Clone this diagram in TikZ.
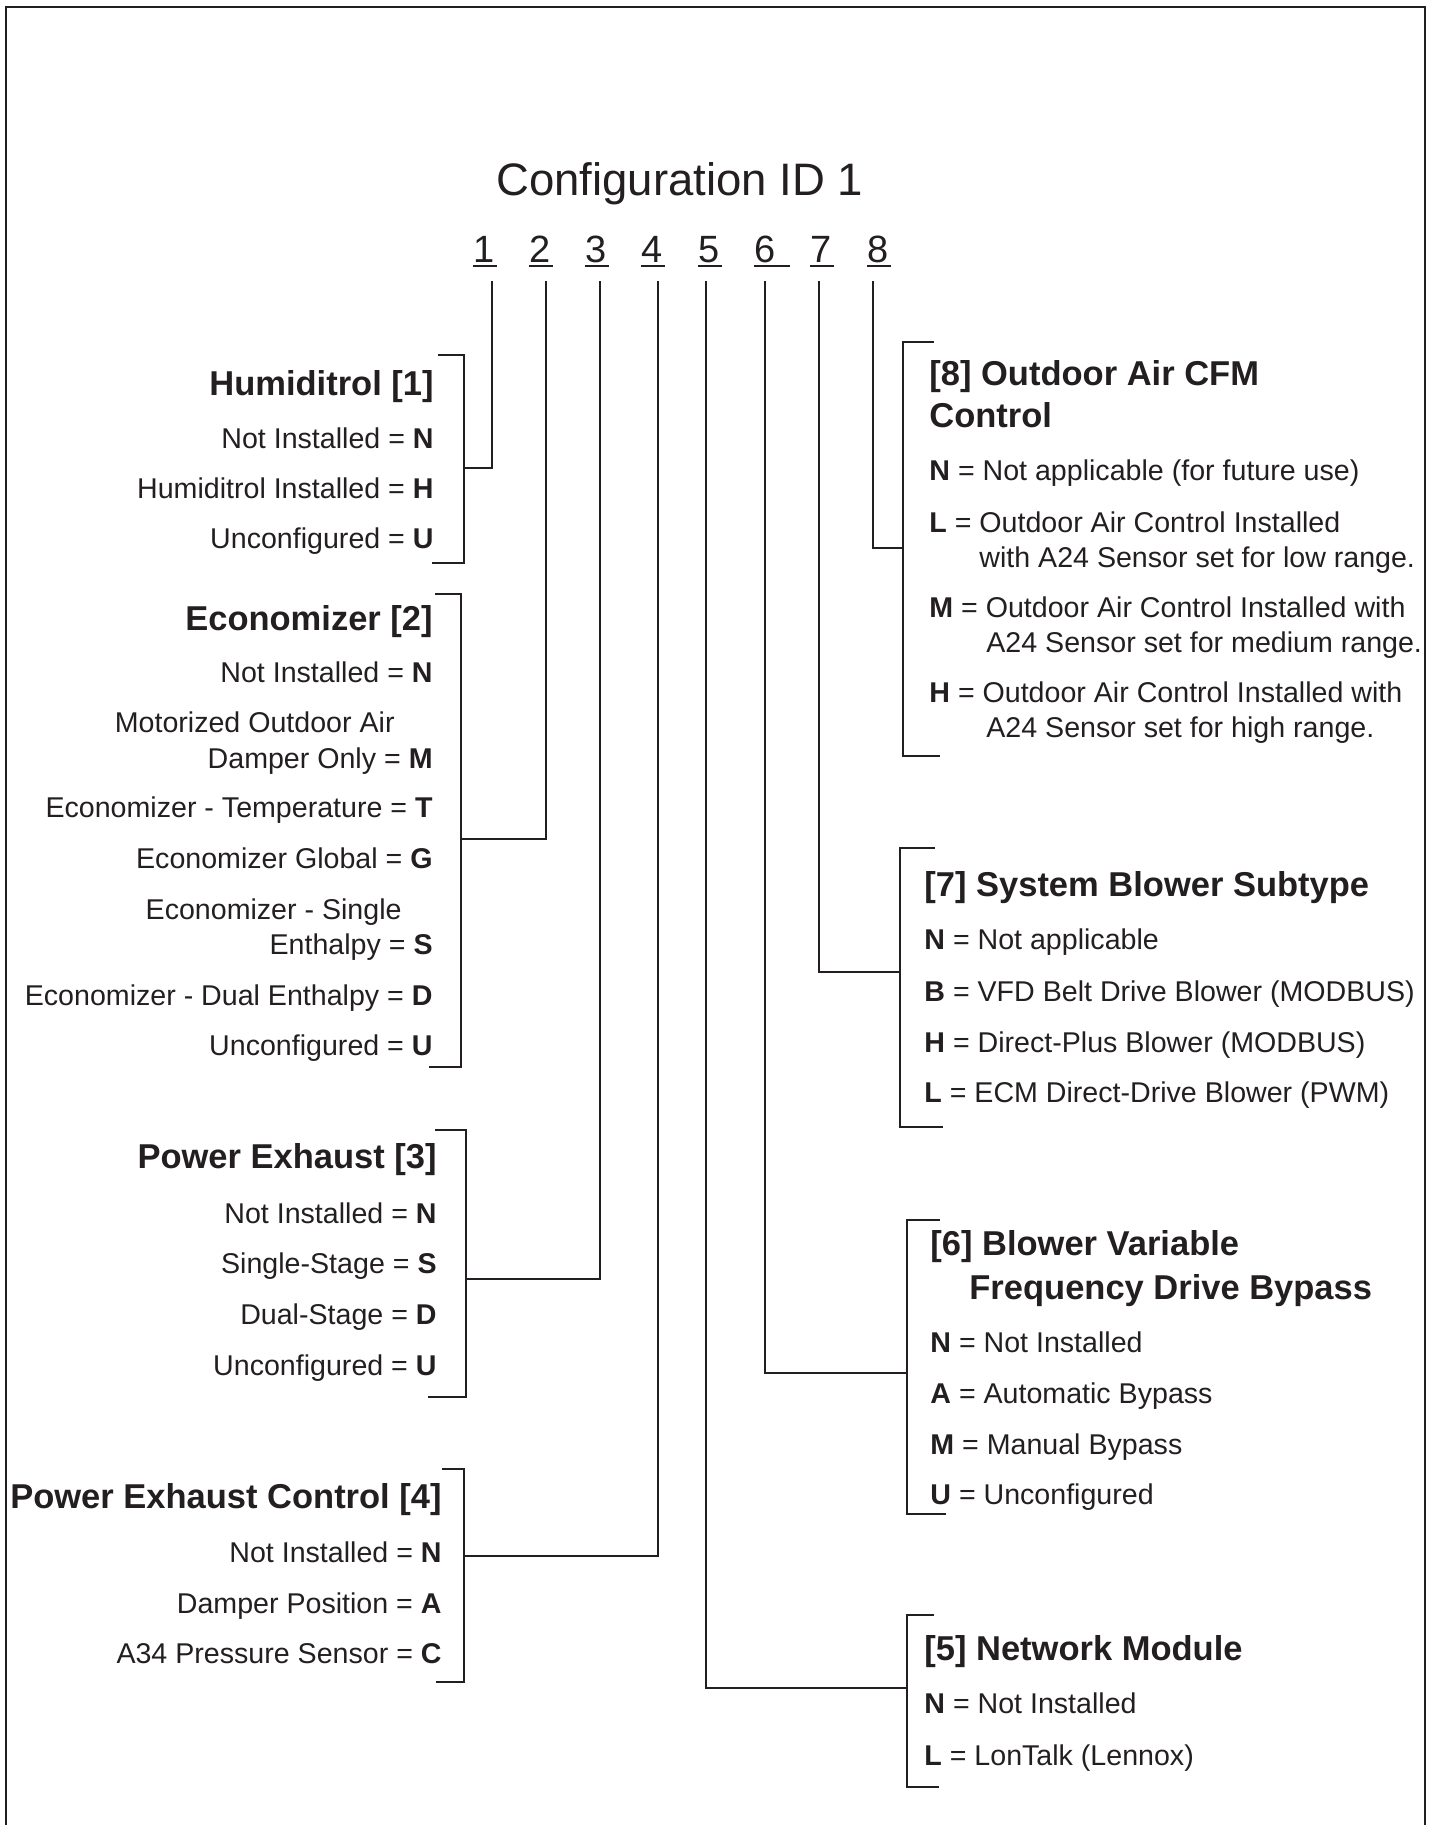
\documentclass[tikz,border=0pt]{standalone}
\usepackage{fontspec}
\setmainfont{Liberation Sans}
\usepackage{xcolor}
\usepackage{tikz}
\definecolor{cfgink}{HTML}{231F20}
\tikzset{
  ltext/.style={anchor=base east,inner sep=0pt,text=cfgink,font=\fontsize{14.3}{17}\selectfont},
  rtext/.style={anchor=base west,inner sep=0pt,text=cfgink,font=\fontsize{14.3}{17}\selectfont},
  lhead/.style={ltext,font=\fontsize{17.25}{20}\selectfont\bfseries},
  rhead/.style={rtext,font=\fontsize{17.25}{20}\selectfont\bfseries},
  digit/.style={anchor=base west,inner sep=0pt,text=cfgink,font=\fontsize{19}{22}\selectfont},
  cfgtitle/.style={anchor=base west,inner sep=0pt,text=cfgink,font=\fontsize{22.75}{26}\selectfont},
  brk/.style={draw=cfgink,line width=1.25pt},
  link/.style={draw=cfgink,line width=1pt}
}

\begin{document}
\begin{tikzpicture}[x=0.5pt,y=-0.5pt]
    \useasboundingbox (0,0) rectangle (1432,1825);
    \draw[cfgink,line width=1.15pt] (6,1825) -- (6,7) -- (1425,7) -- (1425,1825);
    \node[cfgtitle] (title) at (496,195) {Configuration ID 1};
    \foreach \i/\x/\w in {1/473/1,2/529/1,3/585/1,4/641/1,5/698/1,6/754/7,7/810/1,8/867/1} {
      \node[digit] (d\i) at (\x,262) {\i};
      \draw[link] ([yshift=-2pt]d\i.base west) -- ([xshift=\w pt,yshift=-2pt]d\i.base east);
    }
    \foreach \i/\x in {1/492,2/546,3/600,4/658,5/706,6/765,7/819,8/873} \coordinate (t\i) at (\x,281);
    \coordinate (j1) at (464,468);
    \coordinate (j2) at (461,839);
    \coordinate (j3) at (466,1279);
    \coordinate (j4) at (464,1556);
    \coordinate (j5) at (907,1688);
    \coordinate (j6) at (907,1373);
    \coordinate (j7) at (900,972);
    \coordinate (j8) at (903,548);
    \foreach \i in {1,...,8} \draw[link] (t\i) |- (j\i);
    \draw[brk] (438,355) -- (464,355) -- (464,563) -- (432,563);
    \draw[brk] (435,594) -- (461,594) -- (461,1067) -- (429,1067);
    \draw[brk] (435,1130) -- (466,1130) -- (466,1397) -- (428,1397);
    \draw[brk] (442,1469) -- (464,1469) -- (464,1682) -- (436,1682);
    \draw[brk] (934,342) -- (903,342) -- (903,756) -- (940,756);
    \draw[brk] (935,848) -- (900,848) -- (900,1127) -- (943,1127);
    \draw[brk] (940,1220) -- (907,1220) -- (907,1514) -- (946,1514);
    \draw[brk] (934,1615) -- (907,1615) -- (907,1787) -- (939,1787);
    \node[lhead] (hum) at (434,395) {Humiditrol [1]};
    \node[ltext] (hum-n) at (434,448) {Not Installed = \textbf{N}};
    \node[ltext] (hum-h) at (434,498) {Humiditrol Installed = \textbf{H}};
    \node[ltext] (hum-u) at (434,548) {Unconfigured = \textbf{U}};
    \node[lhead] (eco) at (433,630) {Economizer [2]};
    \node[ltext] (eco-n) at (433,682) {Not Installed = \textbf{N}};
    \node[ltext] (eco-m1) at (395,732) {Motorized Outdoor Air};
    \node[ltext] (eco-m2) at (433,768) {Damper Only = \textbf{M}};
    \node[ltext] (eco-t) at (433,817) {Economizer - Temperature = \textbf{T}};
    \node[ltext] (eco-g) at (433,868) {Economizer Global = \textbf{G}};
    \node[ltext] (eco-s1) at (402,919) {Economizer - Single};
    \node[ltext] (eco-s2) at (433,954) {Enthalpy = \textbf{S}};
    \node[ltext] (eco-d) at (433,1005) {Economizer - Dual Enthalpy = \textbf{D}};
    \node[ltext] (eco-u) at (433,1055) {Unconfigured = \textbf{U}};
    \node[lhead] (pex) at (437,1168) {Power Exhaust [3]};
    \node[ltext] (pex-n) at (437,1223) {Not Installed = \textbf{N}};
    \node[ltext] (pex-s) at (437,1273) {Single-Stage = \textbf{S}};
    \node[ltext] (pex-d) at (437,1324) {Dual-Stage = \textbf{D}};
    \node[ltext] (pex-u) at (437,1375) {Unconfigured = \textbf{U}};
    \node[lhead] (pec) at (442,1508) {Power Exhaust Control [4]};
    \node[ltext] (pec-n) at (442,1562) {Not Installed = \textbf{N}};
    \node[ltext] (pec-a) at (442,1613) {Damper Position = \textbf{A}};
    \node[ltext] (pec-c) at (442,1663) {A34 Pressure Sensor = \textbf{C}};
    \node[rhead] (oac1) at (929,385) {[8] Outdoor Air CFM};
    \node[rhead] (oac2) at (929,427) {Control};
    \node[rtext] (oac-n) at (929,480) {\textbf{N} = Not applicable (for future use)};
    \node[rtext] (oac-l1) at (929,532) {\textbf{L} = Outdoor Air Control Installed};
    \node[rtext] (oac-l2) at (979,567) {with A24 Sensor set for low range.};
    \node[rtext] (oac-m1) at (929,617) {\textbf{M} = Outdoor Air Control Installed with};
    \node[rtext] (oac-m2) at (986,652) {A24 Sensor set for medium range.};
    \node[rtext] (oac-h1) at (929,702) {\textbf{H} = Outdoor Air Control Installed with};
    \node[rtext] (oac-h2) at (986,737) {A24 Sensor set for high range.};
    \node[rhead] (sbs) at (924,896) {[7] System Blower Subtype};
    \node[rtext] (sbs-n) at (924,949) {\textbf{N} = Not applicable};
    \node[rtext] (sbs-b) at (924,1001) {\textbf{B} = VFD Belt Drive Blower (MODBUS)};
    \node[rtext] (sbs-h) at (924,1052) {\textbf{H} = Direct-Plus Blower (MODBUS)};
    \node[rtext] (sbs-l) at (924,1102) {\textbf{L} = ECM Direct-Drive Blower (PWM)};
    \node[rhead] (vfd1) at (930,1255) {[6] Blower Variable};
    \node[rhead] (vfd2) at (969,1299) {Frequency Drive Bypass};
    \node[rtext] (vfd-n) at (930,1352) {\textbf{N} = Not Installed};
    \node[rtext] (vfd-a) at (930,1403) {\textbf{A} = Automatic Bypass};
    \node[rtext] (vfd-m) at (930,1454) {\textbf{M} = Manual Bypass};
    \node[rtext] (vfd-u) at (930,1504) {\textbf{U} = Unconfigured};
    \node[rhead] (net) at (924,1660) {[5] Network Module};
    \node[rtext] (net-n) at (924,1713) {\textbf{N} = Not Installed};
    \node[rtext] (net-l) at (924,1765) {\textbf{L} = LonTalk (Lennox)};
  \end{tikzpicture}
\end{document}
